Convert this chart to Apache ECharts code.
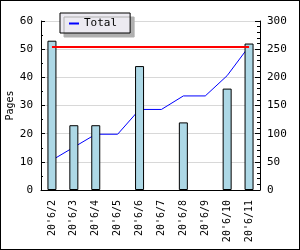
<!DOCTYPE html>
<html>
<head>
    <meta charset="utf-8">
    <script src="https://cdn.jsdelivr.net/npm/echarts@6/dist/echarts.min.js"></script>
    <style type="text/css">
        html, body { margin: 0; padding: 0; background: #fff; }
        #chart { width: 300px; height: 250px; box-sizing: border-box; border: 1px solid #000; }
    </style>
</head>
<body>
<div id="chart"></div>
<script type="text/javascript">
    // data (null = no bar that day)
    var categories = ["20'6/2", "20'6/3", "20'6/4", "20'6/5", "20'6/6", "20'6/7", "20'6/8", "20'6/9", "20'6/10", "20'6/11"];
    var pages = [53, 23, 23, null, 44, null, 24, null, 36, 52];
    var total = [53, 76, 99, 99, 143, 143, 167, 167, 203, 255];
    var targetTotal = 255;

    var mono = 'DejaVu Sans Mono';
    var myChart = echarts.init(document.getElementById('chart'));
    myChart.setOption({
        animation: false,
        backgroundColor: '#fff',
        grid: { left: 40, right: 39, top: 20, bottom: 59, outerBoundsMode: 'none', containLabel: false },
        legend: {
            data: ['Total'],
            left: 59, top: 12,
            orient: 'horizontal',
            icon: 'rect',
            itemWidth: 10, itemHeight: 2,
            itemGap: 5,
            padding: [5, 13, 4, 9],
            backgroundColor: '#eceaf1',
            borderColor: '#000', borderWidth: 1,
            shadowColor: '#b0b0b0', shadowBlur: 0, shadowOffsetX: 4, shadowOffsetY: 4,
            textStyle: { fontFamily: mono, fontSize: 11, color: '#000' }
        },
        xAxis: {
            type: 'category',
            data: categories,
            boundaryGap: true,
            axisLine: { lineStyle: { color: '#000', width: 1 } },
            axisTick: { inside: true, length: 5, lineStyle: { color: '#000' } },
            axisLabel: { rotate: 90, margin: 10, fontFamily: mono, fontSize: 10, color: '#000' },
            splitLine: { show: false }
        },
        yAxis: [{
            type: 'value',
            min: 0, max: 60, interval: 10,
            name: 'Pages',
            nameLocation: 'middle', nameRotate: 90, nameGap: 26, nameMoveOverlap: false,
            nameTextStyle: { fontFamily: mono, fontSize: 10, color: '#000' },
            axisLine: { show: true, lineStyle: { color: '#000' } },
            axisTick: { show: true, inside: true, length: 4, lineStyle: { color: '#000' } },
            minorTick: { show: true, splitNumber: 2, length: 2, lineStyle: { color: '#000' } },
            axisLabel: { margin: 8, fontFamily: mono, fontSize: 11, color: '#000' },
            splitLine: { show: true, lineStyle: { color: '#d8d8d8', width: 1 } }
        }, {
            type: 'value',
            min: 0, max: 300, interval: 50,
            position: 'right',
            axisLine: { show: true, lineStyle: { color: '#000' } },
            axisTick: { show: true, inside: true, length: 5, lineStyle: { color: '#000' } },
            minorTick: { show: true, splitNumber: 5, length: 3, lineStyle: { color: '#000' } },
            axisLabel: { margin: 7, fontFamily: mono, fontSize: 11, color: '#000' },
            splitLine: { show: false }
        }],
        series: [{
            name: 'Pages',
            type: 'bar',
            yAxisIndex: 0,
            data: pages,
            barWidth: 9,
            z: 4,
            itemStyle: { color: '#add8e6', borderColor: '#000', borderWidth: 1 }
        }, {
            name: 'Total',
            type: 'line',
            yAxisIndex: 1,
            data: total,
            showSymbol: false,
            z: 2,
            lineStyle: { color: '#0000ff', width: 1 },
            itemStyle: { color: '#0000ff' },
            markLine: {
                silent: true,
                symbol: 'none',
                label: { show: false },
                lineStyle: { color: '#ff0000', width: 2, type: 'solid' },
                data: [[
                    { coord: [categories[0], targetTotal] },
                    { coord: [categories[categories.length - 1], targetTotal] }
                ]]
            }
        }]
    });
</script>
</body>
</html>
